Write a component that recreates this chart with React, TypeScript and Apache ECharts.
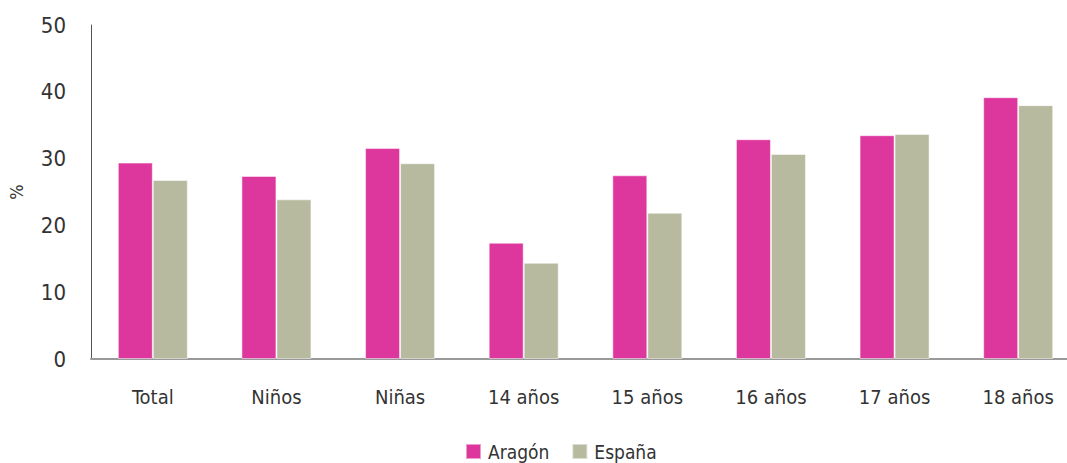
import React, { useEffect, useRef } from "react";
import * as echarts from "echarts";

const categories = ["Total", "Niños", "Niñas", "14 años", "15 años", "16 años", "17 años", "18 años"];
const aragon = [29.4, 27.4, 31.6, 17.4, 27.5, 32.9, 33.5, 39.2];
const espana = [26.8, 23.9, 29.3, 14.4, 21.9, 30.7, 33.7, 38.0];
const seriesNames = ["Aragón", "España"];
const yTicks = { min: 0, max: 50, interval: 10 };

const FONT = "'DejaVu Sans Condensed', 'Liberation Sans Narrow', sans-serif";

export default function App() {
  const ref = useRef<HTMLDivElement>(null);
  useEffect(() => {
    if (!ref.current) return;
    const chart = echarts.init(ref.current, undefined, { renderer: "svg" });
    chart.setOption({
      animation: false,
      textStyle: { fontFamily: FONT },
      grid: { left: 91, width: 989, top: 25, height: 334, outerBoundsMode: "none", containLabel: false },
      legend: {
        data: seriesNames,
        top: 437,
        left: 460,
        itemWidth: 15,
        itemHeight: 15,
        itemGap: 22,
        icon: "rect",
        textStyle: { fontFamily: FONT, fontSize: 19, color: "#333", padding: [0, 0, 0, 2] },
      },
      xAxis: {
        type: "category",
        data: categories,
        axisLine: { lineStyle: { color: "#999", width: 2 } },
        axisTick: { show: false },
        axisLabel: { fontFamily: FONT, fontSize: 20, color: "#333", margin: 28 },
      },
      yAxis: {
        type: "value",
        min: yTicks.min,
        max: yTicks.max,
        interval: yTicks.interval,
        name: "%",
        nameLocation: "middle",
        nameGap: 66,
        nameRotate: 90,
        nameTextStyle: { fontFamily: FONT, fontSize: 18, color: "#333" },
        axisLine: { show: true, lineStyle: { color: "#555", width: 1 } },
        axisTick: { show: false },
        splitLine: { show: false },
        axisLabel: { fontFamily: FONT, fontSize: 22, color: "#333", margin: 25 },
      },
      series: [
        {
          name: seriesNames[0],
          type: "bar",
          data: aragon,
          barWidth: 35,
          barGap: "0%",
          itemStyle: { color: "#DD379D", borderColor: "rgba(255,255,255,0.5)", borderWidth: 1 },
        },
        {
          name: seriesNames[1],
          type: "bar",
          data: espana,
          barWidth: 35,
          barGap: "0%",
          itemStyle: { color: "#B7BA9E", borderColor: "rgba(255,255,255,0.5)", borderWidth: 1 },
        },
      ],
    });
    return () => chart.dispose();
  }, []);
  return <div ref={ref} style={{ width: 1067, height: 463, position: "absolute", left: 0, top: 0 }} />;
}
